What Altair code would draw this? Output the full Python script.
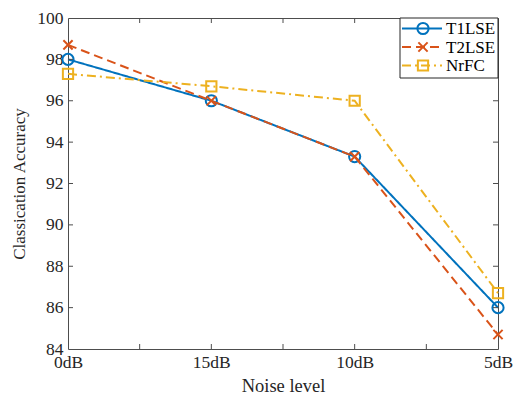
import altair as alt
import pandas as pd

categories = ["0dB", "15dB", "10dB", "5dB"]
t1lse = [98.0, 96.0, 93.3, 86.0]
t2lse = [98.7, 96.0, 93.3, 84.7]
nrfc = [97.3, 96.7, 96.0, 86.7]
series_names = ["T1LSE", "T2LSE", "NrFC"]
y_ticks = [84, 86, 88, 90, 92, 94, 96, 98, 100]
x_ticks = [0, 0.5, 1, 1.5, 2, 2.5, 3]

W, H = 430, 331
FONT = "Liberation Serif"
TXT = "#262626"
AX = "#4d4d4d"

styles = {
    "T1LSE": dict(color="#0072BD", dash=[1, 0], shape="circle", size=125),
    "T2LSE": dict(color="#D95319", dash=[9, 5], shape="M-1,-1L1,1M-1,1L1,-1", size=85),
    "NrFC": dict(color="#EDB120", dash=[9, 4, 2, 4], shape="square", size=105),
}
values = {"T1LSE": t1lse, "T2LSE": t2lse, "NrFC": nrfc}

label_expr = "[" + ",".join(f"'{c}'" for c in categories) + "][datum.value]"
xscale = alt.Scale(domain=[0, 3], nice=False, zero=False)
yscale = alt.Scale(domain=[84, 100], nice=False, zero=False)

xenc = alt.X("x:Q", scale=xscale,
             axis=alt.Axis(values=[0, 1, 2, 3], labelExpr=label_expr, title="Noise level",
                           labelPadding=4, titlePadding=6, labelFlush=False,
                           titleFontSize=18.5))
yenc = alt.Y("v:Q", scale=yscale,
             axis=alt.Axis(values=y_ticks, title="Classication Accuracy",
                           labelPadding=5, titlePadding=8, labelFlush=False,
                           titleFontSize=17))

layers = []

first = True
for name in series_names:
    st = styles[name]
    df = pd.DataFrame({"x": list(range(len(categories))), "v": values[name], "s": name})
    base = alt.Chart(df)
    if first:
        enc_x, enc_y = xenc, yenc
        first = False
    else:
        enc_x = alt.X("x:Q", scale=xscale)
        enc_y = alt.Y("v:Q", scale=yscale)
    layers.append(base.mark_line(color=st["color"], strokeWidth=2, strokeDash=st["dash"]).encode(
        x=enc_x, y=enc_y))
    layers.append(base.mark_point(color=st["color"], shape=st["shape"], size=st["size"],
                                  filled=False, strokeWidth=2, opacity=1).encode(
        x=alt.X("x:Q", scale=xscale), y=alt.Y("v:Q", scale=yscale)))

# inward tick marks on all four sides
xt = pd.DataFrame({"x": x_ticks[1:-1]})
yt = pd.DataFrame({"v": y_ticks[1:-1]})
layers.append(alt.Chart(xt).mark_rule(color=AX, strokeWidth=1).encode(
    x=alt.X("x:Q", scale=xscale), y=alt.value(H), y2=alt.value(H - 5)))
layers.append(alt.Chart(xt).mark_rule(color=AX, strokeWidth=1).encode(
    x=alt.X("x:Q", scale=xscale), y=alt.value(0), y2=alt.value(5)))
layers.append(alt.Chart(yt).mark_rule(color=AX, strokeWidth=1).encode(
    y=alt.Y("v:Q", scale=yscale), x=alt.value(0), x2=alt.value(5)))
layers.append(alt.Chart(yt).mark_rule(color=AX, strokeWidth=1).encode(
    y=alt.Y("v:Q", scale=yscale), x=alt.value(W), x2=alt.value(W - 5)))

# legend
lg = pd.DataFrame({"s": ["legend"]})
layers.append(alt.Chart(lg).mark_rect(fill="white", stroke=TXT, strokeWidth=1).encode(
    x=alt.value(332), x2=alt.value(W), y=alt.value(0), y2=alt.value(60)))
row_y = [10.5, 29, 47.5]
for name, ry in zip(series_names, row_y):
    st = styles[name]
    d = pd.DataFrame({"s": [name]})
    layers.append(alt.Chart(d).mark_rule(color=st["color"], strokeWidth=2, strokeDash=st["dash"]).encode(
        x=alt.value(334), x2=alt.value(374), y=alt.value(ry)))
    layers.append(alt.Chart(d).mark_point(color=st["color"], shape=st["shape"], size=st["size"],
                                          filled=False, strokeWidth=2, opacity=1).encode(
        x=alt.value(355), y=alt.value(ry)))
    layers.append(alt.Chart(d).mark_text(font=FONT, fontSize=17, color="black", align="left",
                                         baseline="middle").encode(
        x=alt.value(378), y=alt.value(ry + 0.5), text="s:N"))

chart = alt.layer(*layers).properties(
    width=W, height=H,
    background="white",
    autosize=alt.AutoSizeParams(type="none"),
    padding={"left": 60, "top": 10, "right": 15, "bottom": 50},
).configure_view(stroke=AX, strokeWidth=1).configure_axis(
    ticks=False, domain=False, grid=False,
    labelFont=FONT, titleFont=FONT, labelFontSize=17.5,
    labelColor=TXT, titleColor=TXT, titleFontWeight="normal", labelFontWeight="normal",
    labelFlush=False,
)

chart.save("out.html", embed_options={"renderer": "svg", "actions": False})
